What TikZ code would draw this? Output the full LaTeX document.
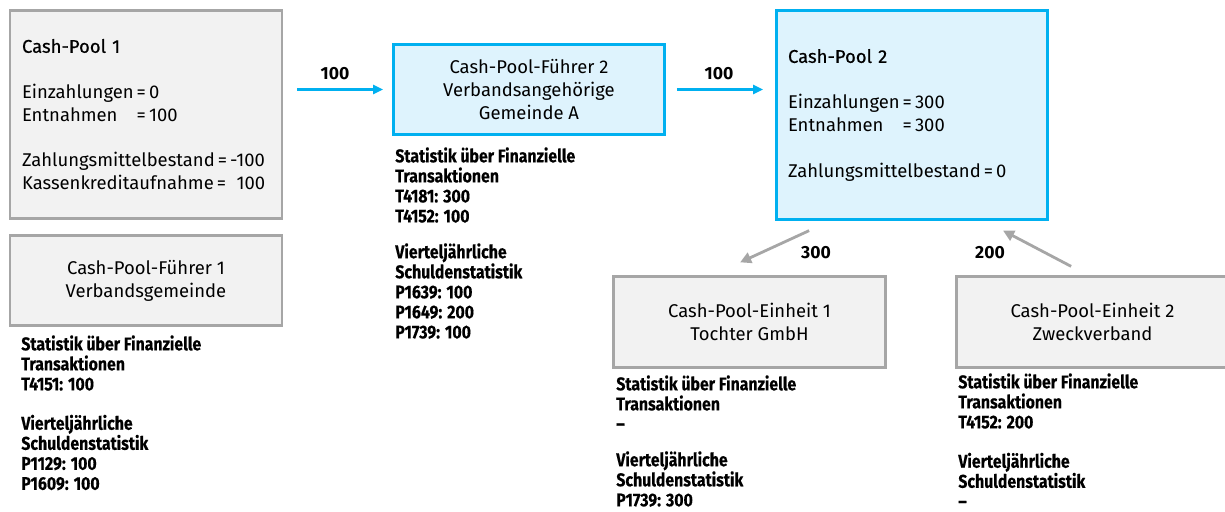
\documentclass[tikz,border=0pt]{standalone}
\usepackage{fontspec}
\setmainfont{Fira Sans}
\newfontfamily\statfont[FakeStretch=0.86, FakeBold=0.3]{Fira Sans}
\newfontfamily\headfont[FakeBold=0.6]{Fira Sans}
\usetikzlibrary{arrows.meta,calc}
\definecolor{poolblue}{HTML}{00B0F0}
\definecolor{poolbluefill}{HTML}{DEF3FD}
\definecolor{poolgray}{HTML}{A6A6A6}
\definecolor{poolgrayfill}{HTML}{F2F2F2}
\newcommand{\eqlabel}[1]{\leavevmode\rlap{#1}\phantom{Einzahlungen}}

\begin{document}
\begin{tikzpicture}[x=0.02cm, y=-0.02cm,
  graybox/.style = {draw=poolgray, fill=poolgrayfill, line width=1.6pt, minimum width=5.44cm, minimum height=1.81cm, align=center, font=\fontsize{10.5}{13}\selectfont},
  bluebox/.style = {draw=poolblue, fill=poolbluefill, line width=1.6pt, minimum width=5.42cm, minimum height=1.81cm, align=center, font=\fontsize{10.5}{13}\selectfont},
  poolbox/.style = {text width=4.96cm, inner xsep=0.23cm, minimum height=4.17cm, align=left},
  stat/.style = {anchor=north west, inner sep=0pt, align=left, font=\statfont\bfseries\fontsize{10.5}{11.4}\selectfont},
  amount/.style = {font=\bfseries\fontsize{10}{12}\selectfont},
  bluearrow/.style = {draw=poolblue, line width=1.2pt, -{Triangle[length=0.2cm, width=0.18cm]}},
  grayarrow/.style = {draw=poolgray, line width=1.6pt, -{Triangle[length=0.22cm, width=0.22cm]}}]

\useasboundingbox (0,0) rectangle (1225,511);

%% boxes
\node[graybox, poolbox] (cp1) at (146,114.5) {{\headfont Cash-Pool 1}\\[13pt]
  Einzahlungen\,=\,0\\
  \eqlabel{Entnahmen}\,=\,100\\[13pt]
  Zahlungsmittelbestand\,=\,-100\\
  Kassenkreditaufnahme\,=\,\phantom{-}100};
\node[graybox] (cpf1) at (146,280.5) {Cash-Pool-Führer 1\\Verbandsgemeinde};
\node[bluebox] (cpf2) at (529,89.5) {Cash-Pool-Führer 2\\Verbandsangehörige\\Gemeinde A};
\node[bluebox, poolbox] (cp2) at (912,115) {{\headfont Cash-Pool 2}\\[13pt]
  Einzahlungen\,=\,300\\
  \eqlabel{Entnahmen}\,=\,300\\[13pt]
  Zahlungsmittelbestand\,=\,0};
\node[graybox] (cpe1) at (749.5,322) {Cash-Pool-Einheit 1\\Tochter GmbH};
\node[graybox] (cpe2) at (1092.5,322) {Cash-Pool-Einheit 2\\Zweckverband};

%% statistics
\node[stat] (st1) at (21,335) {Statistik über Finanzielle\\Transaktionen\\T4151: 100\\[11pt]
  Vierteljährliche\\Schuldenstatistik\\P1129: 100\\P1609: 100};
\node[stat] (st2) at (395,147) {Statistik über Finanzielle\\Transaktionen\\T4181: 300\\T4152: 100\\[9pt]
  Vierteljährliche\\Schuldenstatistik\\P1639: 100\\P1649: 200\\P1739: 100};
\node[stat] (st3) at (616,375) {Statistik über Finanzielle\\Transaktionen\\–\\[9pt]
  Vierteljährliche\\Schuldenstatistik\\P1739: 300};
\node[stat] (st4) at (958,373) {Statistik über Finanzielle\\Transaktionen\\T4152: 200\\[11pt]
  Vierteljährliche\\Schuldenstatistik\\–};

%% flows
\draw[bluearrow, shorten <=0.28cm, shorten >=0.18cm] (cp1.east |- cpf2.west) -- (cpf2.west);
\draw[bluearrow, shorten <=0.22cm, shorten >=0.24cm] (cpf2.east) -- (cp2.west |- cpf2.east);
\coordinate (out1) at ($(cp2.south west)+(34,10)$);
\coordinate (in1) at ($(cpe1.north west)+(128,-13)$);
\coordinate (out2) at ($(cpe2.north west)+(116,-9)$);
\coordinate (in2) at ($(cp2.south west)+(228,10)$);
\draw[grayarrow] (out1) -- (in1);
\draw[grayarrow] (out2) -- (in2);

%% amounts
\node[amount] (a1) at (335,74) {100};
\node[amount] (a2) at (719,74) {100};
\node[amount] (a3) at (816,253) {300};
\node[amount] (a4) at (990,253) {200};

\end{tikzpicture}
\end{document}
